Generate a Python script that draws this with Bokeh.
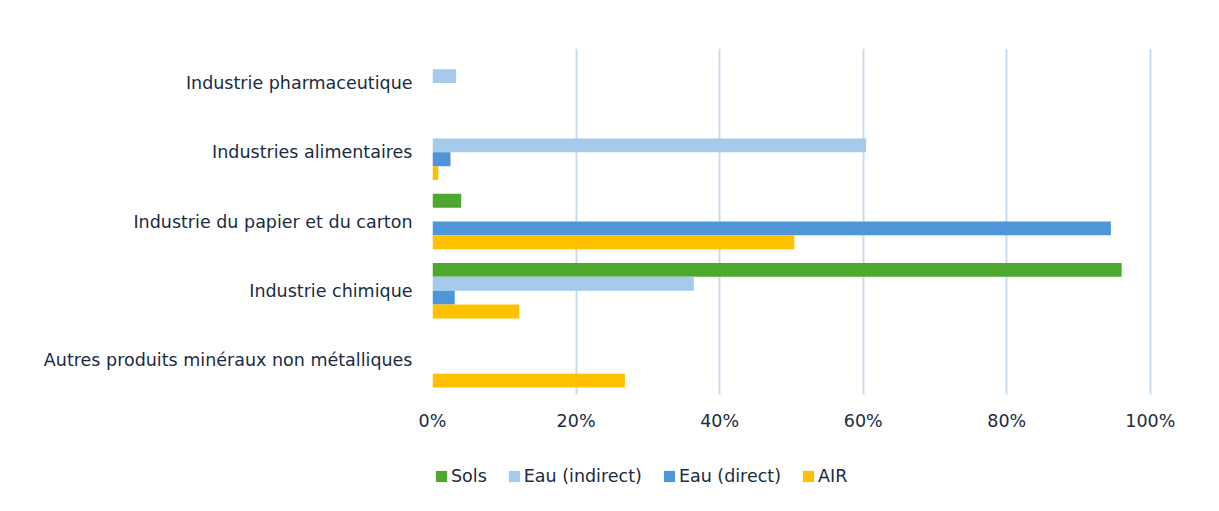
from bokeh.plotting import figure
from bokeh.layouts import column
from bokeh.models import ColumnDataSource, FactorRange, FixedTicker, NumeralTickFormatter, Legend, LegendItem, Range1d
from bokeh.transform import dodge
from bokeh.embed import file_html
from bokeh.resources import INLINE

categories = [
    "Industrie pharmaceutique",
    "Industries alimentaires",
    "Industrie du papier et du carton",
    "Industrie chimique",
    "Autres produits minéraux non métalliques",
]
sols = [0.0, 0.0, 0.040, 0.960, 0.0]
eau_indirect = [0.033, 0.604, 0.0, 0.364, 0.0]
eau_direct = [0.0, 0.025, 0.945, 0.031, 0.0]
air = [0.0, 0.008, 0.504, 0.121, 0.268]
series_names = ["Sols", "Eau (indirect)", "Eau (direct)", "AIR"]
tick_values = [0, 0.2, 0.4, 0.6, 0.8, 1.0]

colors = ["#4ea72e", "#a6caec", "#4e95d9", "#ffc000"]
offsets = [0.3, 0.1, -0.1, -0.3]
text_color = "#1a2b42"
FONT = "DejaVu Sans"
FS = "17.5px"

source = ColumnDataSource(dict(cat=categories, sols=sols, ei=eau_indirect, ed=eau_direct, air=air))

p = figure(
    frame_width=720, frame_height=346,
    y_range=FactorRange(factors=list(reversed(categories)), range_padding=0),
    x_range=(0, 1.003),
    output_backend="svg", toolbar_location=None,
    min_border_left=432, min_border_right=67, min_border_top=48, min_border_bottom=40,
)
p.outline_line_color = None
p.background_fill_color = "white"
p.border_fill_color = "white"

renderers = []
for field, off, col in zip(["sols", "ei", "ed", "air"], offsets, colors):
    r = p.hbar(y=dodge("cat", off, range=p.y_range), left=0, right=field, height=0.2,
               source=source, fill_color=col, line_color=None)
    renderers.append(r)

p.xaxis.ticker = FixedTicker(ticks=tick_values)
p.xaxis.formatter = NumeralTickFormatter(format="0%")
for ax in (p.xaxis, p.yaxis):
    ax.axis_line_color = None
    ax.major_tick_line_color = None
    ax.minor_tick_line_color = None
    ax.major_tick_out = 0
    ax.major_tick_in = 0
    ax.major_label_text_color = text_color
    ax.major_label_text_font = FONT
    ax.major_label_text_font_size = FS
p.xaxis.major_label_standoff = 16
p.yaxis.major_label_standoff = 20

p.xgrid.ticker = FixedTicker(ticks=tick_values)
p.xgrid.grid_line_color = "#c6dcf2"
p.xgrid.grid_line_width = 2
p.ygrid.grid_line_color = None

# legend strip below the chart (proxy renderers carry only the series colours)
L = figure(
    width=1219, height=76, x_range=Range1d(0, 1), y_range=Range1d(0, 1),
    output_backend="svg", toolbar_location=None,
    x_axis_type=None, y_axis_type=None,
    min_border_left=0, min_border_right=0, min_border_top=0, min_border_bottom=0,
)
L.outline_line_color = None
L.grid.visible = False
L.background_fill_color = "white"
L.border_fill_color = "white"
proxy = ColumnDataSource(dict(y=[float("nan")], r=[float("nan")]))
leg_renderers = []
for col in colors:
    leg_renderers.append(L.hbar(y="y", right="r", left=0, height=0.1, source=proxy,
                                fill_color=col, line_color=None))

items = [LegendItem(label=n, renderers=[r]) for n, r in zip(series_names, leg_renderers)]
legend = Legend(items=items, orientation="horizontal", location=(2, 24),
                glyph_width=14, glyph_height=14, label_standoff=3, spacing=20,
                padding=0, margin=0, border_line_color=None, background_fill_alpha=0,
                label_text_font=FONT, label_text_font_size=FS, label_text_color=text_color,
                label_height=20)
L.add_layout(legend, "center")

open("out.html", "w").write(file_html(column(p, L, spacing=0), INLINE))
